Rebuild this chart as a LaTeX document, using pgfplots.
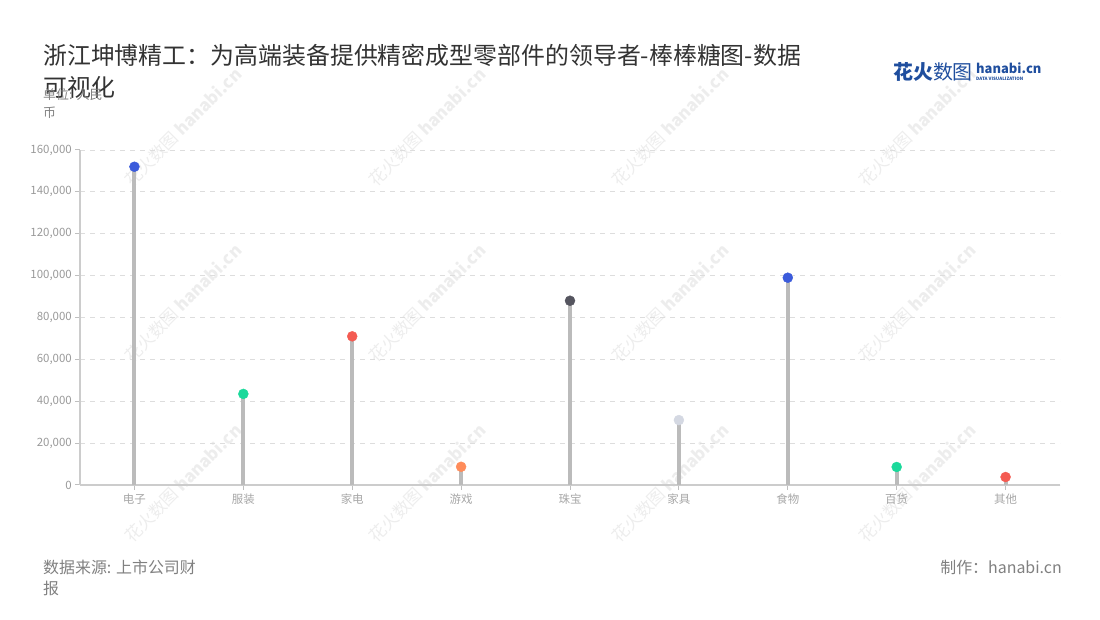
\documentclass[border=0pt]{standalone}
\usepackage{pgfplots}
\usepackage{pgfplotstable}
\pgfplotsset{compat=1.18}
\usepackage{fontspec}
\setmainfont{Noto Sans CJK SC}
\definecolor{cblue}{HTML}{3B5BDB}
\definecolor{cgreen}{HTML}{1BD99B}
\definecolor{cred}{HTML}{F45B52}
\definecolor{corange}{HTML}{FF8C5A}
\definecolor{cdark}{HTML}{55555F}
\definecolor{clight}{HTML}{D4D8E2}
\definecolor{stem}{HTML}{BBBBBB}
\definecolor{tickc}{HTML}{999999}
\definecolor{gridc}{HTML}{DDDDDD}
\definecolor{logoblue}{HTML}{1F4E9E}

\pgfplotstableread{
x y c
0 152000 b
1 43500 g
2 71000 r
3 8700 o
4 88000 d
5 31000 l
6 99000 b
7 8600 g
8 3800 r
}\sales

\begin{document}
\begin{tikzpicture}[x=1bp,y=1bp,every node/.style={inner sep=0pt}]
\path (0,0) rectangle (1100,620);
% watermarks
\foreach \wx in {183,427,670,917} {
  \foreach \wy in {493,317,137} {
    \node[rotate=45,text=black!7,font=\fontsize{17}{17}\selectfont] at (\wx,\wy) {花火数图 \textbf{hanabi.cn}};
  }
}
% title
\node[anchor=west,text=black!80,font=\fontsize{24}{24}\selectfont] at (43,565) {浙江坤博精工：为高端装备提供精密成型零部件的领导者-棒棒糖图-数据};
\node[anchor=west,text=black!80,font=\fontsize{24}{24}\selectfont] at (43,533) {可视化};
\node[anchor=west,text=black!50,font=\fontsize{13}{13}\selectfont] at (43,525) {单位: 人民};
\node[anchor=west,text=black!50,font=\fontsize{13}{13}\selectfont] at (43,507) {币};
% logo
\node[anchor=west,text=logoblue,font=\fontsize{20}{20}\selectfont\bfseries] at (893,548) {花火\textmd{数图}};
\node[anchor=west,text=logoblue,font=\fontsize{13}{13}\selectfont\bfseries] at (976,552) {hanabi.cn};
\node[anchor=west,text=logoblue,font=\fontsize{4.5}{4.5}\selectfont\bfseries] at (976,541) {DATA VISUALIZATION};
% footer
\node[anchor=west,text=black!50,font=\fontsize{16}{16}\selectfont] at (43,53) {数据来源: 上市公司财};
\node[anchor=west,text=black!50,font=\fontsize{16}{16}\selectfont] at (43,32) {报};
\node[anchor=east,text=black!50,font=\fontsize{16}{16}\selectfont] at (1062,53) {制作：hanabi.cn};

\begin{axis}[
    at={(80bp,135bp)}, anchor=south west,
    scale only axis, width=980bp, height=335bp,
    xmin=-0.5, xmax=8.5, ymin=0, ymax=160000,
    axis x line=bottom, axis y line=left,
    axis line style={draw=black!20, line width=1.2bp, -},
    xtick=data,
    xticklabels={电子,服装,家电,游戏,珠宝,家具,食物,百货,其他},
    ytick={0,20000,40000,60000,80000,100000,120000,140000,160000},
    yticklabels={0,{20,000},{40,000},{60,000},{80,000},{100,000},{120,000},{140,000},{160,000}},
    scaled y ticks=false,
    tick label style={font=\fontsize{11.5}{11.5}\selectfont},
    x tick label style={text=black!35, yshift=-4bp},
    y tick label style={text=tickc, xshift=-3bp},
    major tick length=5bp,
    tick style={draw=black!25, line width=1bp},
    xtick pos=bottom, ytick pos=left,
    tick align=outside,
    ymajorgrids,
    grid style={draw=gridc, dash pattern=on 5bp off 5bp, line width=0.8bp},
    clip=false,
]
\addplot[ycomb, draw=stem, line width=4bp, no marks] table[x=x,y=y]{\sales};
\addplot[scatter, only marks, scatter src=explicit symbolic, mark size=5bp,
  scatter/classes={
    b={mark=*,fill=cblue,draw=cblue},
    g={mark=*,fill=cgreen,draw=cgreen},
    r={mark=*,fill=cred,draw=cred},
    o={mark=*,fill=corange,draw=corange},
    d={mark=*,fill=cdark,draw=cdark},
    l={mark=*,fill=clight,draw=clight}}]
  table[x=x,y=y,meta=c]{\sales};
\end{axis}
\end{tikzpicture}
\end{document}
